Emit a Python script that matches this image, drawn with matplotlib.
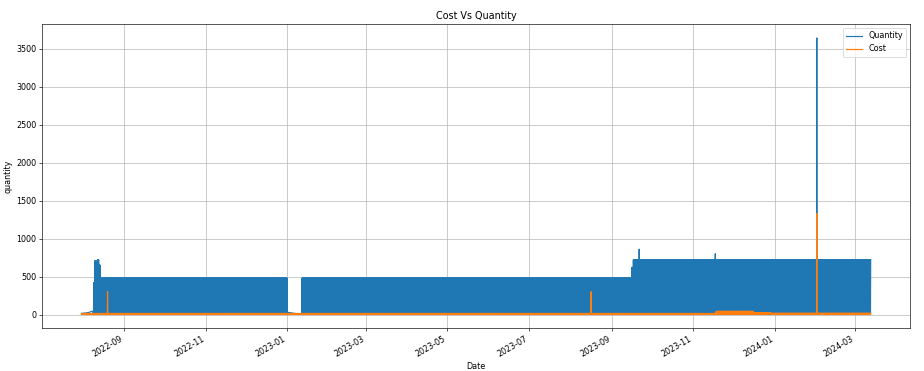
import numpy as np
import pandas as pd
import matplotlib
matplotlib.use("Agg")
import matplotlib.pyplot as plt

# ---------------- data ----------------
# early low readings before the regular pattern starts
lead_dates = ["2022-07-31", "2022-08-02", "2022-08-04", "2022-08-06", "2022-08-08"]
lead_qty = [15, 18, 22, 30, 45]

# quantity: runs of days where records swing between a low and a high value
qty_seg_start = ["2022-08-09", "2022-08-10", "2022-08-11", "2022-08-12", "2022-08-13",
                 "2022-08-14", "2023-01-12", "2023-09-16", "2023-09-17"]
qty_seg_end = ["2022-08-09", "2022-08-10", "2022-08-11", "2022-08-12", "2022-08-13",
               "2022-12-31", "2023-09-15", "2023-09-16", "2024-03-12"]
qty_seg_high = [420, 710, 690, 720, 650, 480, 480, 620, 720]
qty_seg_low = [0, 0, 0, 0, 0, 0, 0, 0, 0]

# gap around new year (no swinging records)
gap_dates = ["2022-12-31 22:00", "2023-01-11 23:00"]
gap_qty = [30, 0]

# single-day peaks of quantity
qty_spike_dates = ["2023-09-21", "2023-11-17", "2024-02-01"]
qty_spike_vals = [860, 800, 3640]

# cost: runs of days with a base level
cost_seg_start = ["2022-07-31", "2023-11-18", "2023-12-16", "2023-12-29"]
cost_seg_end = ["2023-11-17", "2023-12-15", "2023-12-28", "2024-03-12"]
cost_seg_high = [14, 42, 24, 16]

cost_spike_dates = ["2022-08-19", "2023-08-16", "2024-02-01"]
cost_spike_vals = [300, 300, 1330]

# ---------------- build series ----------------
step = pd.Timedelta(hours=4)
q_spikes = {pd.Timestamp(d): v for d, v in zip(qty_spike_dates, qty_spike_vals)}
c_spikes = {pd.Timestamp(d): v for d, v in zip(cost_spike_dates, cost_spike_vals)}

qx = [pd.Timestamp(d) for d in lead_dates]
qy = list(lead_qty)
for s, e, hi, lo in zip(qty_seg_start, qty_seg_end, qty_seg_high, qty_seg_low):
    for d in pd.date_range(s, e):
        top = q_spikes.get(d, hi)
        for k in range(3):
            qx += [d + step * (2 * k), d + step * (2 * k + 1)]
            qy += [lo, top if k == 1 else hi]
    if e == "2022-12-31":
        qx += [pd.Timestamp(g) for g in gap_dates]
        qy += gap_qty

cx, cy = [], []
for s, e, hi in zip(cost_seg_start, cost_seg_end, cost_seg_high):
    for d in pd.date_range(s, e):
        top = c_spikes.get(d, hi)
        for k in range(3):
            cx += [d + step * (2 * k), d + step * (2 * k + 1)]
            cy += [0, top if k == 1 else hi]

# ---------------- plot ----------------
DPI = 57.75
fig = plt.figure(figsize=(924 / DPI, 371 / DPI), dpi=DPI)
ax = fig.add_subplot(111)
fig.subplots_adjust(left=0.0455, right=0.985, top=0.935, bottom=0.115)

ax.plot(qx, qy, label="Quantity")
ax.plot(cx, cy, label="Cost")
ax.set_title("Cost Vs Quantity")
ax.set_xlabel("Date")
ax.set_ylabel("quantity")
ax.grid(True)
ax.legend(loc="upper right")
for lbl in ax.get_xticklabels():
    lbl.set_rotation(30)
    lbl.set_ha("right")

fig.savefig("out.png", dpi=DPI)
